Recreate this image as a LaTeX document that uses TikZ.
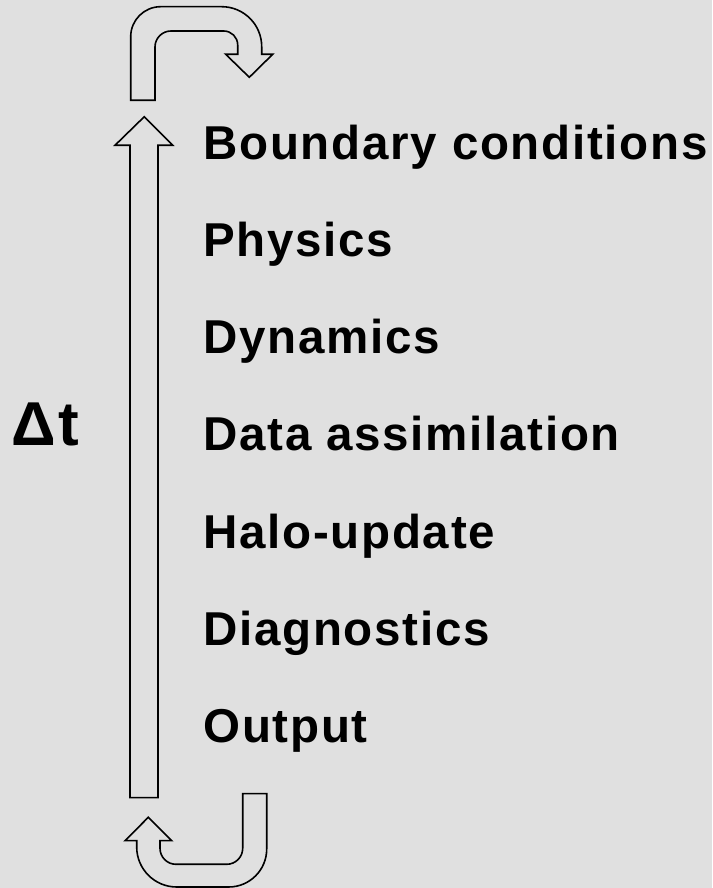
\documentclass[tikz,border=0pt]{standalone}
\usepackage{fontspec}
\setmainfont{Liberation Sans}
\definecolor{bg}{RGB}{224,224,224}
\begin{document}
\begin{tikzpicture}[x=1pt,y=1pt,
  outline/.style={draw=black,line width=1.6pt,line join=miter},
  step label/.style={anchor=base west,inner sep=0pt,
    font=\fontsize{47.5}{47.5}\selectfont\bfseries\addfontfeatures{LetterSpace=3.6}}]
  \fill[bg] (0,0) rectangle (712,888);
  \useasboundingbox (0,0) rectangle (712,888);

  % long upward arrow
  \draw[outline] (130,90.3) -- (158,90.3) -- (158,742.7) -- (172.7,742.7)
    -- (144.3,771.3) -- (115,742.7) -- (130,742.7) -- cycle;

  % bent arrow at the top, turning right and down
  \draw[outline] (130.7,787.7) -- (130.7,851.3) arc[start angle=180,end angle=90,radius=30]
    -- (221.7,881.3) arc[start angle=90,end angle=0,radius=40]
    -- (261.7,833.7) -- (272.7,833.7) -- (249.3,810.7) -- (225.7,833.7) -- (237.7,833.7)
    -- (237.7,843) arc[start angle=0,end angle=90,radius=14]
    -- (171,857) arc[start angle=90,end angle=180,radius=16]
    -- (155,787.7) -- cycle;

  % bent arrow at the bottom, turning left and up
  \draw[outline] (242.7,94.3) -- (266.7,94.3) -- (266.7,39) arc[start angle=0,end angle=-90,radius=38]
    -- (176.7,1) arc[start angle=270,end angle=180,radius=40]
    -- (136.7,47.3) -- (125,47.3) -- (148.3,70.7) -- (171.7,47.3) -- (160,47.3)
    -- (160,39.7) arc[start angle=180,end angle=270,radius=16]
    -- (226.7,23.7) arc[start angle=270,end angle=360,radius=16]
    -- cycle;

  % time step label
  \node[anchor=base west,inner sep=0pt,font=\fontsize{62}{62}\selectfont\bfseries\addfontfeatures{LetterSpace=3}] (dt) at (11.5,442.3) {Δt};

  % model steps
  \node[step label] (s1) at (203.3,728.7) {Boundary conditions};
  \node[step label] (s2) at (203.3,631.5) {Physics};
  \node[step label] (s3) at (203.3,534.3) {Dynamics};
  \node[step label] (s4) at (203.3,437.1) {Data assimilation};
  \node[step label] (s5) at (203.3,339.9) {Halo-update};
  \node[step label] (s6) at (203.3,242.7) {Diagnostics};
  \node[step label] (s7) at (203.3,145.5) {Output};
\end{tikzpicture}
\end{document}
